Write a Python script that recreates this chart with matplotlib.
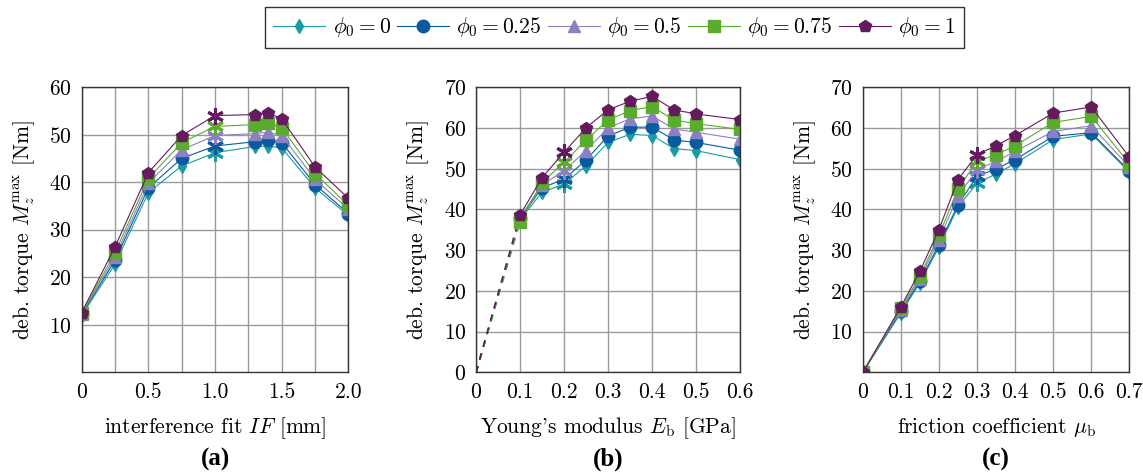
import matplotlib.pyplot as plt
from matplotlib.ticker import MultipleLocator
from matplotlib.lines import Line2D

plt.rcParams['font.family'] = 'cmr10'
plt.rcParams['mathtext.fontset'] = 'cm'
plt.rcParams['axes.formatter.use_mathtext'] = True

labels = [r'$\phi_0 = 0$', r'$\phi_0 = 0.25$', r'$\phi_0 = 0.5$', r'$\phi_0 = 0.75$', r'$\phi_0 = 1$']
colors = ['#1a9ca2', '#0a5aa2', '#8a80c2', '#5aac2c', '#661a5e']
markers = ['d', 'o', '^', 's', 'p']

# (a) interference fit
x_a = [0, 0.25, 0.5, 0.75, 1.0, 1.3, 1.4, 1.5, 1.75, 2.0]
y_a = [
    [12.0, 22.8, 37.8, 43.4, 46.2, 47.5, 47.6, 47.2, 38.8, 33.0],
    [12.2, 23.6, 38.8, 45.0, 47.6, 48.5, 48.8, 48.3, 39.5, 33.4],
    [12.3, 24.3, 39.8, 46.8, 49.8, 50.2, 50.5, 49.8, 40.6, 34.3],
    [12.4, 25.2, 40.8, 48.3, 51.7, 52.1, 52.4, 51.4, 41.8, 35.1],
    [12.6, 26.4, 42.0, 49.8, 54.0, 54.2, 54.5, 53.3, 43.2, 36.6],
]
ref_a = 1.0

# (b) Young's modulus
x_b = [0.1, 0.15, 0.2, 0.25, 0.3, 0.35, 0.4, 0.45, 0.5, 0.6]
y_b = [
    [37.5, 44.2, 46.2, 50.7, 56.4, 58.4, 58.1, 54.9, 54.4, 52.2],
    [37.8, 45.3, 47.4, 52.1, 58.0, 60.1, 60.2, 57.0, 56.4, 54.5],
    [38.0, 46.0, 49.5, 54.4, 60.0, 62.2, 62.9, 59.7, 58.9, 57.2],
    [37.0, 46.6, 51.5, 57.0, 61.9, 64.2, 65.2, 61.9, 61.0, 59.6],
    [38.6, 47.8, 54.0, 60.0, 64.4, 66.5, 67.7, 64.4, 63.4, 62.0],
]
ref_b = 0.2

# (c) friction coefficient
x_c = [0, 0.1, 0.15, 0.2, 0.25, 0.3, 0.35, 0.4, 0.5, 0.6, 0.7]
y_c = [
    [0, 14.6, 22.0, 30.7, 40.6, 46.4, 48.7, 51.2, 57.1, 58.5, 49.1],
    [0, 15.0, 22.4, 31.3, 41.1, 48.1, 49.9, 52.2, 57.9, 58.8, 49.4],
    [0, 15.3, 23.0, 32.5, 43.3, 49.7, 51.8, 54.2, 59.1, 60.5, 50.4],
    [0, 15.7, 23.6, 33.6, 45.0, 51.8, 53.4, 55.6, 61.3, 62.8, 51.2],
    [0, 16.1, 24.8, 35.0, 47.3, 53.4, 55.6, 58.1, 63.6, 65.1, 52.8],
]
ref_c = 0.3

fig = plt.figure(figsize=(11.43, 4.73), dpi=100)
ax_a = fig.add_axes([0.0715, 0.2125, 0.2333, 0.6036])
ax_b = fig.add_axes([0.4165, 0.2125, 0.2310, 0.6036])
ax_c = fig.add_axes([0.7548, 0.2125, 0.2333, 0.6036])


def msize(m):
    return 7.5 if m == 'd' else 9


def draw(ax, x, ys, ref):
    for i in range(5):
        xs = [v for v in x if v != ref]
        yv = [y for v, y in zip(x, ys[i]) if v != ref]
        ax.plot(x, ys[i], color=colors[i], lw=0.8, zorder=3 + i)
        ax.plot(xs, yv, ls='none', marker=markers[i], color=colors[i],
                ms=msize(markers[i]), zorder=3 + i)
        ax.plot([ref], [ys[i][x.index(ref)]], ls='none', marker=(6, 2, 0),
                color=colors[i], ms=12, mew=2.2, zorder=3 + i)


draw(ax_a, x_a, y_a, ref_a)
draw(ax_b, x_b, y_b, ref_b)
draw(ax_c, x_c, y_c, ref_c)

# dashed extrapolation to the origin
for i in range(5):
    ax_b.plot([0, x_b[0]], [0, y_b[i][0]], color=colors[i], lw=1.2,
              ls=(0, (4, 4)), zorder=2)

ax_a.set_xlim(0, 2.0)
ax_a.set_ylim(0, 60)
ax_a.set_xticks([0, 0.5, 1.0, 1.5, 2.0], ['0', '0.5', '1.0', '1.5', '2.0'])
ax_a.xaxis.set_minor_locator(MultipleLocator(0.25))
ax_a.set_yticks([10, 20, 30, 40, 50, 60])
ax_a.set_xlabel(r'interference fit $IF$ [mm]')

ax_b.set_xlim(0, 0.6)
ax_b.set_ylim(0, 70)
ax_b.set_xticks([0, 0.1, 0.2, 0.3, 0.4, 0.5, 0.6],
                ['0', '0.1', '0.2', '0.3', '0.4', '0.5', '0.6'])
ax_b.set_yticks([0, 10, 20, 30, 40, 50, 60, 70])
ax_b.set_xlabel(r"Young's modulus $E_{\rm b}$ [GPa]")

ax_c.set_xlim(0, 0.7)
ax_c.set_ylim(0, 70)
ax_c.set_xticks([0, 0.1, 0.2, 0.3, 0.4, 0.5, 0.6, 0.7],
                ['0', '0.1', '0.2', '0.3', '0.4', '0.5', '0.6', '0.7'])
ax_c.set_yticks([10, 20, 30, 40, 50, 60, 70])
ax_c.set_xlabel(r'friction coefficient $\mu_{\rm b}$')

for ax, tag in zip([ax_a, ax_b, ax_c], ['(a)', '(b)', '(c)']):
    ax.grid(True, which='both', color='#9a9a9a', lw=1.0, zorder=0)
    ax.set_axisbelow(True)
    ax.tick_params(which='both', length=0, labelsize=15.5, pad=7)
    ax.set_ylabel(r'deb. torque $M_z^{\max}$ [Nm]', fontsize=15.5, labelpad=9)
    ax.xaxis.label.set_fontsize(15.5)
    ax.xaxis.labelpad = 10
    for s in ax.spines.values():
        s.set_color('#333333')
        s.set_linewidth(1.0)
        s.set_zorder(10)
    ax.text(0.5, -0.305, tag, transform=ax.transAxes, ha='center', va='center',
            fontsize=18, fontweight='bold', family='Liberation Serif')

handles = [Line2D([], [], color=colors[i], marker=markers[i], lw=0.8,
                  ms=msize(markers[i])) for i in range(5)]
leg = fig.legend(handles, labels, loc='upper center', ncol=5,
                 bbox_to_anchor=(0.5375, 0.995), fontsize=15.5, frameon=True,
                 fancybox=False, edgecolor='black', handlelength=2.4,
                 handletextpad=0.35, columnspacing=0.3, borderpad=0.4,
                 borderaxespad=0.2)
leg.get_frame().set_linewidth(1.0)

fig.savefig('out.png', dpi=100)
